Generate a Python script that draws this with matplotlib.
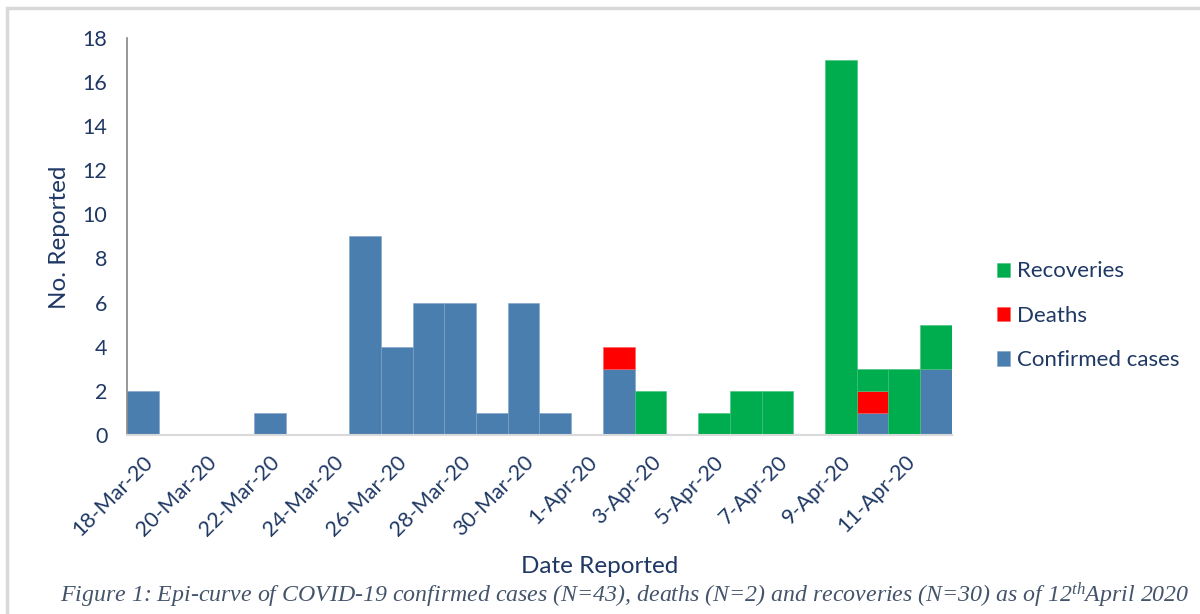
import numpy as np
import matplotlib.pyplot as plt
from matplotlib.patches import Rectangle

days = ['18-Mar-20', '19-Mar-20', '20-Mar-20', '21-Mar-20', '22-Mar-20', '23-Mar-20',
        '24-Mar-20', '25-Mar-20', '26-Mar-20', '27-Mar-20', '28-Mar-20', '29-Mar-20',
        '30-Mar-20', '31-Mar-20', '1-Apr-20', '2-Apr-20', '3-Apr-20', '4-Apr-20',
        '5-Apr-20', '6-Apr-20', '7-Apr-20', '8-Apr-20', '9-Apr-20', '10-Apr-20',
        '11-Apr-20', '12-Apr-20']
confirmed = [2, 0, 0, 0, 1, 0, 0, 9, 4, 6, 6, 1, 6, 1, 0, 3, 0, 0, 0, 0, 0, 0, 0, 1, 0, 3]
deaths = [0, 0, 0, 0, 0, 0, 0, 0, 0, 0, 0, 0, 0, 0, 0, 1, 0, 0, 0, 0, 0, 0, 0, 1, 0, 0]
recoveries = [0, 0, 0, 0, 0, 0, 0, 0, 0, 0, 0, 0, 0, 0, 0, 0, 2, 0, 1, 2, 2, 0, 17, 1, 3, 2]

navy = '#1F3864'
c_conf = '#4A7EAF'
c_death = '#FF0000'
c_rec = '#00AD4E'

plt.rcParams['font.family'] = ['Lato', 'DejaVu Sans']
plt.rcParams['mathtext.fontset'] = 'custom'
plt.rcParams['mathtext.it'] = 'Liberation Serif:italic'
plt.rcParams['mathtext.rm'] = 'Liberation Serif:italic'

fig = plt.figure(figsize=(12, 6.14), dpi=100)
ax = fig.add_axes([0.1058, 0.2915, 0.6875, 0.647])

x = np.arange(len(days))
conf = np.array(confirmed)
dead = np.array(deaths)
rec = np.array(recoveries)

# only draw the non-zero segments so empty ones leave no edge line
m1, m2, m3 = conf > 0, dead > 0, rec > 0
b1 = ax.bar(x[m1], conf[m1], width=1.0, color=c_conf, edgecolor='#7FA3C6',
            linewidth=0.4, label='Confirmed cases')
b2 = ax.bar(x[m2], dead[m2], width=1.0, bottom=conf[m2], color=c_death,
            edgecolor='#FF5A5A', linewidth=0.4, label='Deaths')
b3 = ax.bar(x[m3], rec[m3], width=1.0, bottom=(conf + dead)[m3], color=c_rec,
            edgecolor='#40C278', linewidth=0.4, label='Recoveries')

ax.set_xlim(-0.5, len(days) - 0.5)
ax.set_ylim(0, 18)
ax.set_yticks(range(0, 19, 2))
ax.set_xticks(x[::2])
ax.set_xticklabels(days[::2], rotation=45, ha='right', rotation_mode='anchor')

for s in ['top', 'right']:
    ax.spines[s].set_visible(False)
ax.spines['left'].set_color('#868686')
ax.spines['left'].set_linewidth(1.2)
ax.spines['bottom'].set_color('#D9D9D9')
ax.spines['bottom'].set_linewidth(1.5)
ax.tick_params(axis='both', length=0, labelsize=15.5, labelcolor=navy)
ax.tick_params(axis='y', pad=14)
ax.tick_params(axis='x', pad=12)

fig.text(0.05, 0.614, 'No. Reported', rotation=90, ha='center', va='center', fontsize=17.5, color=navy)
fig.text(0.5, 0.077, 'Date Reported', ha='center', va='center', fontsize=17.5, color=navy)

ax.legend(handles=[b3, b2, b1], loc='center left', bbox_to_anchor=(1.03, 0.30),
          frameon=False, fontsize=16, labelcolor=navy, handlelength=0.6,
          handleheight=0.6, handletextpad=0.3, labelspacing=1.1)

fig.text(0.5205, 0.031,
         r'Figure 1: Epi-curve of COVID-19 confirmed cases (N=43), deaths (N=2) and recoveries (N=30) as of 12$^{th}$April 2020',
         ha='center', va='center', fontsize=17.2, color='#44546A', style='italic',
         family='Liberation Serif')

fig.patches.append(Rectangle((0.006, -0.1), 1.2, 1.087, transform=fig.transFigure,
                             fill=False, edgecolor='#D9D9D9', linewidth=2.5))

fig.savefig('out.png', dpi=100)
